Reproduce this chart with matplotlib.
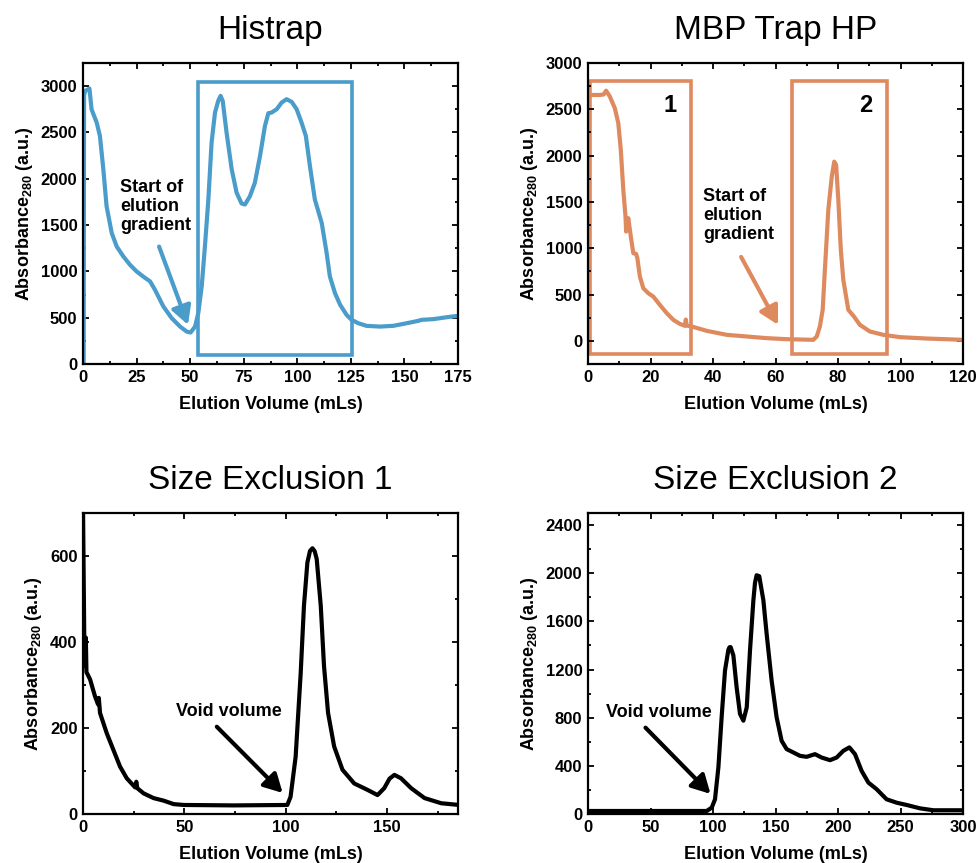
"""Four chromatography traces: Histrap, MBP Trap HP and two size exclusion runs."""

import matplotlib

matplotlib.use("Agg")
import matplotlib.pyplot as plt
from matplotlib.patches import Rectangle
from matplotlib.ticker import AutoMinorLocator, MultipleLocator

plt.rcParams["font.family"] = ["Liberation Sans", "DejaVu Sans"]
plt.rcParams["mathtext.fontset"] = "custom"
plt.rcParams["mathtext.rm"] = "Liberation Sans:bold"
plt.rcParams["mathtext.bf"] = "Liberation Sans:bold"

BLUE = "#4a9cca"
ORANGE = "#de8a5e"
BLACK = "#000000"

# Histrap trace (mL, a.u.)
histrap_x = [0.3, 0.5, 1.0, 2.0, 3.0, 4.0, 6.4, 7.9, 9.5, 11.0, 13.4, 15.7, 18.8, 21.9, 25.0,
             28.0, 31.3, 33.6, 37.5, 41.4, 45.3, 48.4, 50.2, 52.3, 53.8, 55.4, 56.9, 58.5,
             60.0, 61.6, 63.1, 64.2, 65.2, 67.0, 69.4, 71.7, 74.0, 75.6, 77.9, 80.2, 82.6,
             84.9, 86.5, 88.0, 90.4, 92.7, 95.0, 97.4, 99.7, 102.0, 104.0, 105.9, 108.2,
             111.4, 113.7, 115.2, 117.6, 120.0, 123.0, 125.3, 128.5, 132.3, 138.6, 144.8,
             151.0, 156.5, 158.0, 163.4, 169.7, 175.0]
histrap_y = [0, 2900, 2950, 2960, 2975, 2750, 2606, 2462, 2100, 1704, 1415, 1270, 1162, 1072,
             1000, 946, 892, 801, 621, 495, 404, 350, 340, 404, 549, 838, 1271, 1776, 2390,
             2715, 2841, 2895, 2841, 2498, 2101, 1848, 1733, 1722, 1812, 1957, 2245, 2570,
             2708, 2715, 2751, 2823, 2859, 2830, 2751, 2606, 2462, 2137, 1776, 1523, 1199,
             946, 765, 639, 531, 477, 440, 412, 404, 412, 440, 466, 477, 484, 505, 520]

# MBP Trap HP trace
mbp_x = [0.3, 3.8, 5.0, 5.8, 7.0, 8.6, 9.7, 10.5, 11.3, 12.0, 12.2, 12.9, 13.7, 14.5, 15.4,
         15.8, 16.6, 17.7, 19.3, 20.9, 23.0, 25.2, 27.3, 29.4, 31.0, 31.3, 31.6, 33.2, 38.0,
         44.4, 50.8, 57.2, 63.6, 72.1, 73.2, 74.2, 75.1, 75.8, 76.9, 78.0, 78.8, 79.4, 80.1,
         80.9, 81.7, 83.3, 85.1, 87.0, 90.2, 94.5, 99.8, 108.4, 120.0]
mbp_y = [2655, 2655, 2660, 2701, 2637, 2511, 2349, 2061, 1629, 1342, 1180, 1324, 1126, 946,
         939, 892, 694, 568, 514, 478, 388, 299, 227, 183, 162, 230, 165, 155, 108, 65, 47,
         29, 18, 11, 47, 155, 335, 766, 1414, 1773, 1935, 1899, 1522, 982, 658, 335, 263,
         173, 101, 65, 40, 25, 11]

# Size exclusion 1 trace
se1_x = [0.0, 0.6, 1.0, 1.4, 1.7, 3.5, 5.9, 7.4, 7.8, 8.4, 11.7, 15.0, 18.3, 21.6, 25.7, 26.3,
         26.8, 29.9, 34.8, 39.8, 44.7, 49.7, 74.4, 100.8, 102.4, 104.9, 107.4, 109.0, 110.7,
         112.0, 113.2, 114.3, 115.3, 117.3, 118.9, 120.9, 123.9, 128.0, 133.8, 140.4, 145.3,
         148.6, 151.2, 153.6, 156.9, 161.9, 168.5, 176.7, 185.5]
se1_y = [720, 420, 344, 410, 330, 313, 274, 255, 270, 235, 188, 149, 110, 83, 62, 75, 60, 48,
         37, 31, 23, 21, 20, 21, 40, 133, 328, 484, 585, 612, 618, 611, 593, 484, 344, 235,
         157, 103, 71, 56, 44, 60, 82, 91, 83, 60, 37, 25, 21]

# Size exclusion 2 trace
se2_x = [0.0, 50.0, 95.0, 99.0, 101.6, 104.3, 106.9, 109.6, 112.3, 113.2, 114.1, 116.3,
         118.9, 121.6, 124.3, 127.0, 129.6, 132.3, 133.6, 134.9, 137.0, 140.3, 142.9, 146.9,
         150.9, 154.9, 158.9, 164.3, 169.6, 174.9, 181.6, 186.9, 193.6, 198.9, 204.3, 209.1,
         213.6, 218.9, 224.3, 230.9, 238.9, 246.9, 254.9, 265.6, 276.3, 300.0]
se2_y = [25, 25, 25, 53, 122, 386, 803, 1192, 1364, 1385, 1386, 1317, 1053, 831, 775, 886,
         1358, 1775, 1920, 1983, 1975, 1775, 1497, 1108, 803, 608, 539, 511, 483, 475, 497,
         469, 447, 469, 525, 553, 497, 358, 261, 206, 122, 94, 75, 47, 31, 31]

# highlighted fraction windows (x0, x1, y0, y1)
histrap_box = (53.5, 125.5, 100, 3040)
mbp_boxes = [(0.5, 33.0, -140, 2805), (65.3, 95.6, -140, 2805)]
mbp_box_labels = ["1", "2"]

titles = ["Histrap", "MBP Trap HP", "Size Exclusion 1", "Size Exclusion 2"]
xlims = [(0, 175), (0, 120), (0, 185), (0, 300)]
ylims = [(0, 3250), (-250, 3000), (0, 700), (0, 2500)]
xmajor = [25, 20, 50, 50]
ymajor = [500, 500, 200, 400]

YLABEL = r"Absorbance$_{\mathbf{280}}$ (a.u.)"
XLABEL = "Elution Volume (mLs)"


def style_axis(ax, title, xlim, ylim, xstep, ystep):
    ax.set_xlim(*xlim)
    ax.set_ylim(*ylim)
    ax.xaxis.set_major_locator(MultipleLocator(xstep))
    ax.yaxis.set_major_locator(MultipleLocator(ystep))
    ax.xaxis.set_minor_locator(AutoMinorLocator(2))
    ax.yaxis.set_minor_locator(AutoMinorLocator(2))
    ax.tick_params(which="both", direction="in", top=True, right=True, width=1.3,
                   labelsize=12, pad=4)
    ax.tick_params(which="major", length=4.5)
    ax.tick_params(which="minor", length=2.5)
    for lab in ax.get_xticklabels() + ax.get_yticklabels():
        lab.set_fontweight("bold")
    for spine in ax.spines.values():
        spine.set_linewidth(1.6)
    ax.set_title(title, fontsize=24, pad=17)
    ax.set_xlabel(XLABEL, fontsize=13, fontweight="bold", labelpad=8)
    ax.set_ylabel(YLABEL, fontsize=13, fontweight="bold", labelpad=4)


def arrow(ax, tail, head, color):
    ax.annotate("", xy=head, xytext=tail,
                arrowprops=dict(arrowstyle="-|>,head_length=0.55,head_width=0.3",
                                lw=3, color=color, shrinkA=0, shrinkB=0,
                                mutation_scale=20))


fig = plt.figure(figsize=(9.8, 8.63), dpi=100)
w, h = 375 / 980, 301 / 863
positions = [(83 / 980, 1 - 364 / 863), (588 / 980, 1 - 364 / 863),
             (83 / 980, 1 - 814 / 863), (588 / 980, 1 - 814 / 863)]
axes = [fig.add_axes([x0, y0, w, h]) for x0, y0 in positions]

# Histrap
ax = axes[0]
ax.plot(histrap_x, histrap_y, color=BLUE, lw=3, solid_joinstyle="round")
x0, x1, y0, y1 = histrap_box
ax.add_patch(Rectangle((x0, y0), x1 - x0, y1 - y0, fill=False, ec=BLUE, lw=2.6))
ax.text(17.3, 2000, "Start of\nelution\ngradient", fontsize=13, fontweight="bold",
        va="top", ha="left", linespacing=1.15)
arrow(ax, (35.5, 1268), (49.0, 423), BLUE)

# MBP Trap HP
ax = axes[1]
ax.plot(mbp_x, mbp_y, color=ORANGE, lw=3, solid_joinstyle="round")
for (x0, x1, y0, y1), lab in zip(mbp_boxes, mbp_box_labels):
    ax.add_patch(Rectangle((x0, y0), x1 - x0, y1 - y0, fill=False, ec=ORANGE, lw=2.6))
    ax.text(x1 - 6.8, 2545, lab, fontsize=17, fontweight="bold", ha="center", va="center")
ax.text(36.8, 1650, "Start of\nelution\ngradient", fontsize=13, fontweight="bold",
        va="top", ha="left", linespacing=1.15)
arrow(ax, (49.0, 906), (60.8, 173), ORANGE)

# Size exclusion 1
ax = axes[2]
ax.plot(se1_x, se1_y, color=BLACK, lw=3, solid_joinstyle="round")
ax.text(46, 238, "Void volume", fontsize=13, fontweight="bold", va="center", ha="left")
arrow(ax, (66, 203), (98.5, 49), BLACK)

# Size exclusion 2
ax = axes[3]
ax.plot(se2_x, se2_y, color=BLACK, lw=3, solid_joinstyle="round")
ax.text(14.4, 842, "Void volume", fontsize=13, fontweight="bold", va="center", ha="left")
arrow(ax, (46, 717), (98, 167), BLACK)

for ax, title, xl, yl, xs, ys in zip(axes, titles, xlims, ylims, xmajor, ymajor):
    style_axis(ax, title, xl, yl, xs, ys)

fig.savefig("out.png", dpi=100)
